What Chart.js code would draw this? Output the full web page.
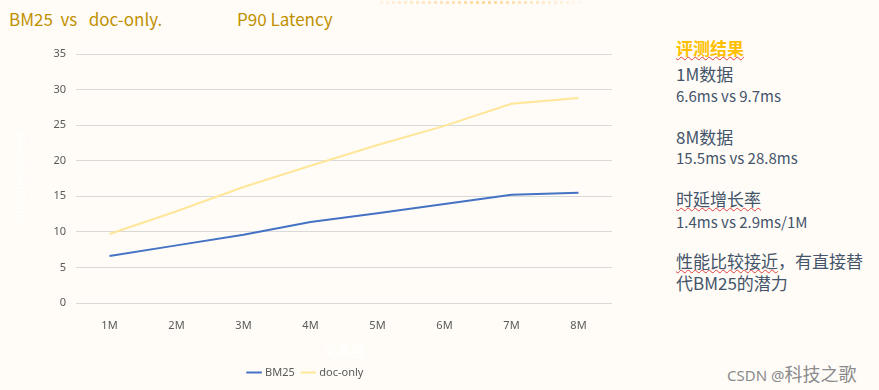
<!DOCTYPE html>
<html>
<head>
<meta charset="utf-8">
<script src="https://cdn.jsdelivr.net/npm/chart.js@4.4.0/dist/chart.umd.min.js"></script>
<style>
    html, body { margin: 0; padding: 0; }
    body { width: 879px; height: 390px; background: #fffcf7; position: relative; overflow: hidden;
           font-family: "Noto Sans CJK SC", "Noto Sans", sans-serif; }
    .title { position: absolute; top: 7px; font-size: 17px; color: #bf9000; white-space: pre; line-height: 24px; }
    #dots { position: absolute; left: 380px; top: 1px; width: 215px; height: 3px;
            background: repeating-linear-gradient(90deg, #ffd9a0 0 3px, transparent 3px 6px);
            -webkit-mask-image: linear-gradient(90deg, rgba(0,0,0,0.3), #000 50%, rgba(0,0,0,0));
            mask-image: linear-gradient(90deg, rgba(0,0,0,0.3), #000 50%, rgba(0,0,0,0)); }
    #wrap { position: absolute; left: 0; top: 0; width: 626px; height: 390px; }
    #notes { position: absolute; left: 676px; top: 35px; color: #44546a; }
    #notes div { position: absolute; left: 0; white-space: nowrap; }
    .head { font-size: 17px; font-weight: bold; color: #ffc000; text-decoration: underline wavy #e04040; text-decoration-thickness: 1px; }
    .big { font-size: 17px; }
    .small { font-size: 15px; }
    .sq { text-decoration: underline wavy #e04040; text-decoration-thickness: 1px; }
    #mark { position: absolute; left: 727px; top: 360px; font-size: 15px; color: #8a8a8a; font-family: "Noto Sans", "Noto Sans CJK SC", sans-serif;
            text-shadow: 0 0 2px #fff; white-space: nowrap; }
    #mark span { font-size: 18px; }
</style>
</head>
<body>
<div class="title" style="left:9px">BM25  vs   doc-only.</div>
<div class="title" style="left:237px">P90 Latency</div>
<div id="dots"></div>
<div id="wrap"><canvas id="chart"></canvas></div>
<div id="notes">
    <div class="head" style="top:0px">评测结果</div>
    <div class="big" style="top:26px">1M数据</div>
    <div class="small" style="top:50px">6.6ms vs 9.7ms</div>
    <div class="big" style="top:89px">8M数据</div>
    <div class="small" style="top:112px">15.5ms vs 28.8ms</div>
    <div class="big sq" style="top:151px">时延增长率</div>
    <div class="small" style="top:176px">1.4ms vs 2.9ms/1M</div>
    <div class="big" style="top:213px"><span class="sq">性能比较接近</span>，有直接替</div>
    <div class="big" style="top:235px">代BM25的潜力</div>
</div>
<div id="mark">CSDN @<span>科技之歌</span></div>

<script>
// data
const categories = ['1M', '2M', '3M', '4M', '5M', '6M', '7M', '8M'];
const bm25Values = [6.6, 8.1, 9.6, 11.4, 12.6, 13.9, 15.2, 15.5];
const docOnlyValues = [9.7, 12.9, 16.3, 19.3, 22.2, 24.9, 28.0, 28.8];
const yTicks = [0, 5, 10, 15, 20, 25, 30, 35];

const tickColor = '#595959';
const gridColor = '#d9d9d9';

document.addEventListener('DOMContentLoaded', () => {
    const ctx = document.getElementById('chart');
    new Chart(ctx, {
        type: 'line',
        data: {
            labels: categories,
            datasets: [
                { label: 'BM25', data: bm25Values, borderColor: '#4472c4', backgroundColor: '#4472c4', borderWidth: 2, pointRadius: 0, tension: 0 },
                { label: 'doc-only', data: docOnlyValues, borderColor: '#ffe699', backgroundColor: '#ffe699', borderWidth: 2, pointRadius: 0, tension: 0 }
            ]
        },
        options: {
            responsive: true,
            maintainAspectRatio: false,
            animation: false,
            layout: { padding: { top: 54, right: 14, left: 0, bottom: 2 } },
            plugins: {
                legend: {
                    position: 'bottom',
                    labels: {
                        usePointStyle: true,
                        pointStyle: 'line',
                        boxWidth: 22,
                        color: tickColor,
                        font: { size: 11, family: 'Noto Sans' },
                        padding: 8
                    }
                },
                tooltip: { enabled: false }
            },
            scales: {
                x: {
                    offset: true,
                    grid: { display: false, offset: true },
                    border: { display: false },
                    ticks: { color: tickColor, font: { size: 11, family: 'Noto Sans' }, padding: 8 },
                    title: { display: true, text: '文本量', color: '#ffffff', font: { size: 14, family: 'Noto Sans CJK SC' }, padding: { top: 4, bottom: 0 } },
                    afterFit: (scale) => { scale.height = 56; }
                },
                y: {
                    min: 0,
                    max: 35,
                    afterBuildTicks: (scale) => { scale.ticks = yTicks.map(v => ({ value: v })); },
                    grid: { color: gridColor, drawTicks: false },
                    border: { display: false },
                    ticks: { color: tickColor, font: { size: 11, family: 'Noto Sans' }, padding: 10 },
                    title: { display: true, text: 'P90 latency (ms)', color: '#ffffff', font: { size: 12, family: 'Noto Sans' }, padding: { top: 14, bottom: 0 } },
                    afterFit: (scale) => { scale.width = 76; }
                }
            }
        }
    });
});
</script>
</body>
</html>
